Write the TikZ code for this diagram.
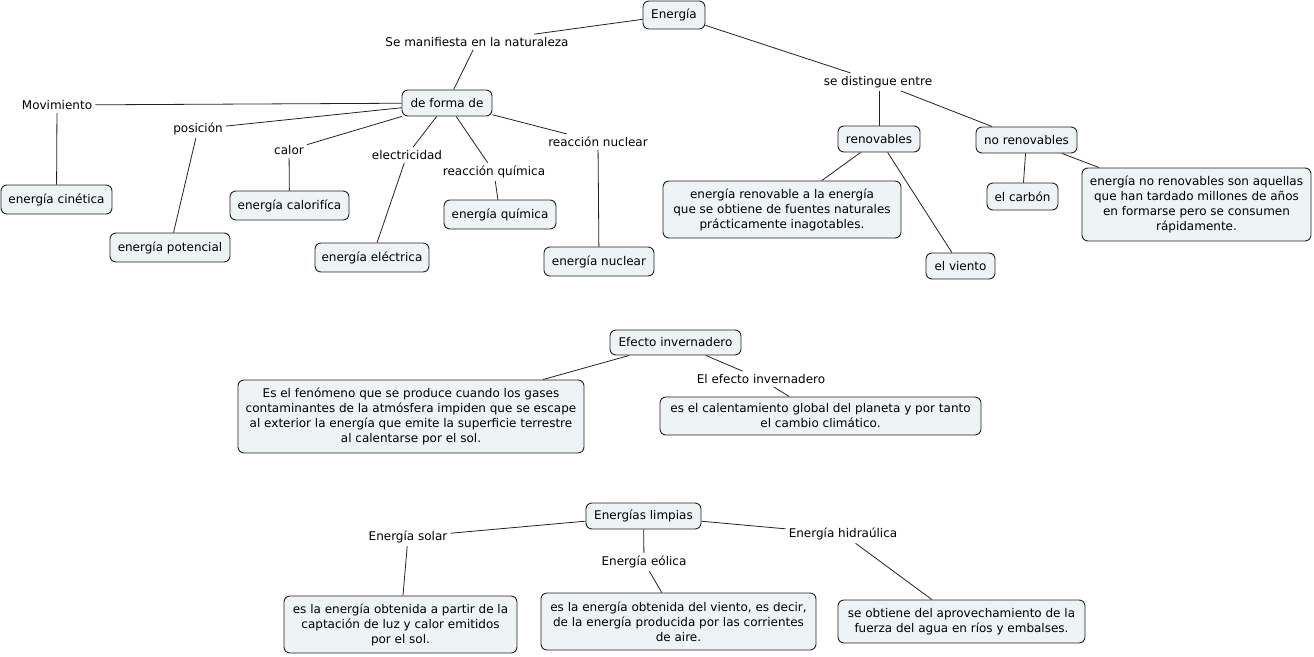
\documentclass[tikz,border=0pt]{standalone}
\usepackage{fontspec}
\setmainfont{DejaVu Sans}
\definecolor{cfill}{HTML}{EEF3F5}
\definecolor{cline}{HTML}{222222}
\begin{document}
\begin{tikzpicture}[x=1pt,y=-1pt,
  concept/.style={draw=cline,fill=cfill,rounded corners=6pt,line width=0.9pt,inner sep=2pt,align=center,font=\fontsize{12}{15}\selectfont},
  lbl/.style={inner sep=3pt,font=\fontsize{12}{15}\selectfont},
  link/.style={draw=cline,line width=0.8pt}]
\useasboundingbox (0,0) rectangle (1314,656);
% top
\node[concept,minimum width=62,minimum height=28] (energia) at (674,15) {Energía};
\node[lbl] (manif) at (477,42) {Se manifiesta en la naturaleza};
\node[lbl] (disting) at (878,82) {se distingue entre};
\node[concept,minimum width=90,minimum height=26] (forma) at (447,103) {de forma de};
\node[lbl] (movim) at (57,105) {Movimiento};
\node[lbl] (posic) at (198,129) {posición};
\node[lbl] (calor) at (289,150) {calor};
\node[lbl] (elec) at (407,155) {electricidad};
\node[lbl] (rquim) at (494,172) {reacción química};
\node[lbl] (rnuc) at (598,142) {reacción nuclear};
\node[concept,minimum width=111,minimum height=29] (cinet) at (56.5,199.5) {energía cinética};
\node[concept,minimum width=120,minimum height=29] (poten) at (170,247.5) {energía potencial};
\node[concept,minimum width=119,minimum height=29] (calorif) at (289.5,205.5) {energía calorifíca};
\node[concept,minimum width=114,minimum height=29] (electr) at (372,257.5) {energía eléctrica};
\node[concept,minimum width=112,minimum height=29] (quim) at (500,214.5) {energía química};
\node[concept,minimum width=110,minimum height=29] (nuc) at (599,261.5) {energía nuclear};
\node[concept,minimum width=82,minimum height=26] (renov) at (879,139) {renovables};
\node[concept,minimum width=101,minimum height=26] (norenov) at (1026.5,140) {no renovables};
\node[concept,minimum width=238,minimum height=57] (renovtxt) at (782,209.5) {energía renovable a la energía\\que se obtiene de fuentes naturales\\prácticamente inagotables.};
\node[concept,minimum width=69,minimum height=26] (viento) at (960.5,266) {el viento};
\node[concept,minimum width=71,minimum height=27] (carbon) at (1022.5,196.5) {el carbón};
\node[concept,minimum width=229,minimum height=73] (norenovtxt) at (1196.5,204.5) {energía no renovables son aquellas\\que han tardado millones de años\\en formarse pero se consumen\\rápidamente.};
\draw[link] (energia) -- (manif);
\draw[link] (manif) -- (forma);
\draw[link] (energia) -- (disting);
\draw[link] (disting.south -| renov.north) -- (renov);
\draw[link] (disting) -- (norenov);
\draw[link] (forma) -- (movim);
\draw[link] (movim) -- (cinet);
\draw[link] (forma) -- (posic);
\draw[link] (posic) -- (poten);
\draw[link] (forma) -- (calor);
\draw[link] (calor) -- (calorif);
\draw[link] (forma) -- (elec);
\draw[link] (elec) -- (electr);
\draw[link] (forma) -- (rquim);
\draw[link] (rquim) -- (quim);
\draw[link] (forma) -- (rnuc);
\draw[link] (rnuc) -- (nuc);
\draw[link] (renov) -- (renovtxt);
\draw[link] (renov) -- (viento);
\draw[link] (norenov) -- (carbon);
\draw[link] (norenov) -- (norenovtxt);
% middle
\node[concept,minimum width=131,minimum height=25] (efecto) at (675.5,342.5) {Efecto invernadero};
\node[concept,minimum width=346,minimum height=73] (fenom) at (411,416.5) {Es el fenómeno que se produce cuando los gases\\contaminantes de la atmósfera impiden que se escape\\al exterior la energía que emite la superficie terrestre\\al calentarse por el sol.};
\node[lbl] (elefecto) at (761,379) {El efecto invernadero};
\node[concept,minimum width=321,minimum height=38] (calent) at (820.5,416) {es el calentamiento global del planeta y por tanto\\el cambio climático.};
\draw[link] (efecto) -- (fenom);
\draw[link] (efecto) -- (elefecto);
\draw[link] (elefecto) -- (calent);
% bottom
\node[concept,minimum width=115,minimum height=26] (limpias) at (643.5,516) {Energías limpias};
\node[lbl] (solar) at (408,537) {Energía solar};
\node[lbl] (eolica) at (644,562) {Energía eólica};
\node[lbl] (hidra) at (843,534) {Energía hidraúlica};
\node[concept,minimum width=233,minimum height=57] (solartxt) at (400.5,624.5) {es la energía obtenida a partir de la\\captación de luz y calor emitidos\\por el sol.};
\node[concept,minimum width=275,minimum height=57] (eolicatxt) at (678.5,621.5) {es la energía obtenida del viento, es decir,\\de la energía producida por las corrientes\\de aire.};
\node[concept,minimum width=247,minimum height=43] (hidratxt) at (961.5,621.5) {se obtiene del aprovechamiento de la\\fuerza del agua en ríos y embalses.};
\draw[link] (limpias) -- (solar);
\draw[link] (solar) -- (solartxt);
\draw[link] (limpias) -- (eolica);
\draw[link] (eolica) -- (eolicatxt);
\draw[link] (limpias) -- (hidra);
\draw[link] (hidra) -- (hidratxt);
\end{tikzpicture}
\end{document}
